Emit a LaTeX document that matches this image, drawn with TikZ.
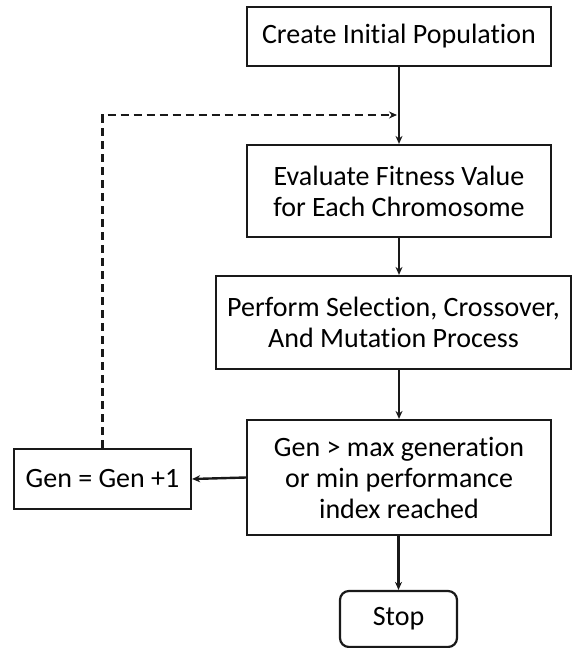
\documentclass[tikz,border=0pt]{standalone}
\usepackage{fontspec}
\setmainfont[Ligatures={NoCommon}]{Carlito}
\usetikzlibrary{arrows.meta}
\begin{document}
\begin{tikzpicture}[x=1pt,y=1pt,
  box/.style={draw=black!90, line width=2.2pt, align=center, inner sep=0pt,
    font=\fontsize{28}{31}\selectfont, text=black},
  conn/.style={line width=2.4pt, draw=black!90, -{Stealth[length=8pt,width=7pt]}},
  loopconn/.style={line width=2.2pt, draw=black!90, dash pattern=on 8pt off 5pt, -{Stealth[length=8pt,width=7pt]}}]
\useasboundingbox[fill=white] (0,0) rectangle (572,-648);
\node[box, minimum width=304, minimum height=59] (b1) at (399,-36.5) {Create Initial Population};
\node[box, minimum width=304, minimum height=92] (b2) at (399,-191) {Evaluate Fitness Value\\for Each Chromosome};
\node[box, minimum width=355, minimum height=93] (b3) at (393.5,-322.5) {Perform Selection, Crossover,\\And Mutation Process};
\node[box, minimum width=304, minimum height=115] (b4) at (399,-477.5) {Gen > max generation\\or min performance\\index reached};
\node[box, minimum width=177, minimum height=60] (gen) at (102.5,-479) {Gen = Gen +1};
\node[box, rounded corners=9pt, minimum width=117, minimum height=56] (stop) at (398.5,-619) {Stop};
\coordinate (j) at (397,-115);
\draw[conn] (b1.south) -- (b2.north);
\draw[conn] (b2.south) -- (b3.north -| b2.south);
\draw[conn] (b3.south -| b4.north) -- (b4.north);
\draw[conn] (b4.west) -- (gen.east);
\draw[conn] (b4.south -| stop.north) -- (stop.north);
\draw[loopconn] (gen.north) |- (j);
\end{tikzpicture}
\end{document}
